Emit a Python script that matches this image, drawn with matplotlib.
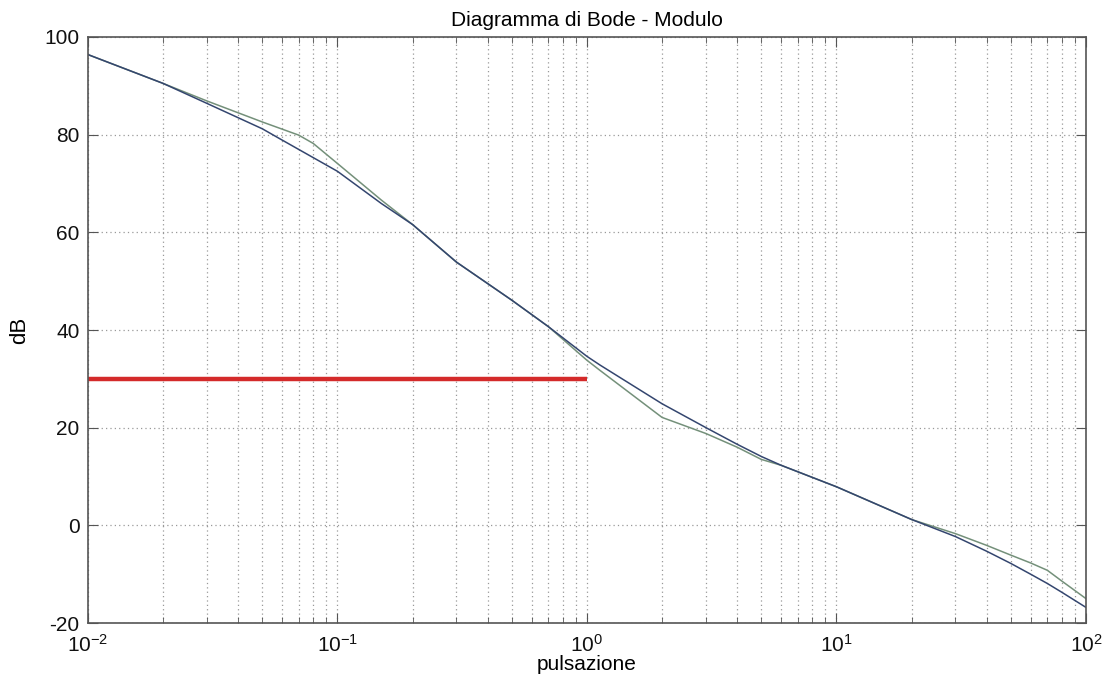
import matplotlib
matplotlib.use("Agg")
import matplotlib.pyplot as plt
from matplotlib.ticker import LogLocator, FixedLocator

plt.rcParams['font.family'] = ['Liberation Sans', 'DejaVu Sans']
plt.rcParams['axes.unicode_minus'] = False
plt.rcParams['mathtext.fontset'] = 'custom'
plt.rcParams['mathtext.rm'] = 'Liberation Sans'
plt.rcParams['mathtext.default'] = 'regular'

# Blue (real) magnitude
blue_w = [0.01, 0.02, 0.03, 0.05, 0.06, 0.1, 0.15, 0.2, 0.3, 0.5, 0.7, 1.0, 1.13,
          2, 3, 4, 5, 6, 10, 20, 30, 40, 50, 60, 70, 80, 100]
blue_db = [96.4, 90.5, 86.4, 81.2, 78.9, 72.5, 65.9, 61.6, 53.9, 46.1, 40.7, 34.6, 32.8,
           24.9, 20.0, 16.6, 14.1, 12.3, 7.9, 1.2, -2.3, -5.3, -7.8, -10.0, -11.9, -13.7, -16.8]

# Green (asymptotic) magnitude
green_w = [0.01, 0.02, 0.03, 0.05, 0.07, 0.08, 0.1, 0.15, 0.2, 0.3, 0.5, 0.7, 1.0, 1.13,
           2, 3, 4, 5, 6, 10, 20, 30, 40, 50, 60, 70, 80, 100]
green_db = [96.4, 90.5, 86.9, 82.6, 79.9, 78.2, 74.1, 66.6, 61.6, 53.9, 46.1, 40.7, 33.8, 31.7,
            22.1, 18.8, 16.0, 13.5, 12.3, 7.9, 1.2, -1.7, -4.1, -6.1, -7.7, -9.2, -11.4, -15.0]

red_w = [0.01, 1.0]
red_db = [30, 30]

y_ticks = [-20, 0, 20, 40, 60, 80, 100]

fig = plt.figure(figsize=(11.13, 6.8), dpi=100)
ax = fig.add_axes([0.079, 0.0838, 0.8967, 0.8618])

ax.plot(green_w, green_db, color='#74907a', lw=1.1)
ax.plot(blue_w, blue_db, color='#34466f', lw=1.1)
ax.plot(red_w, red_db, color='#d42a2a', lw=3.2, solid_capstyle='butt')

ax.set_xscale('log')
ax.set_xlim(0.01, 100)
ax.set_ylim(-20, 100)
ax.yaxis.set_major_locator(FixedLocator(y_ticks))
ax.xaxis.set_major_locator(LogLocator(base=10, numticks=10))
ax.xaxis.set_minor_locator(LogLocator(base=10, subs=range(2, 10), numticks=100))

ax.grid(True, which='major', axis='both', linestyle=(0, (1, 2.5)), color='#999999', lw=0.9)
ax.grid(True, which='minor', axis='x', linestyle=(0, (1, 2.5)), color='#999999', lw=0.9)

for s in ax.spines.values():
    s.set_color('#555555')
    s.set_linewidth(1.2)

ax.tick_params(which='both', direction='in', top=True, right=True, colors='#555555',
               labelcolor='#111111', labelsize=15)
ax.tick_params(which='major', length=7)
ax.tick_params(which='minor', length=4)
ax.tick_params(axis='x', pad=8)
ax.tick_params(axis='y', pad=6)

ax.set_title('Diagramma di Bode - Modulo', fontsize=15, pad=8)
ax.set_xlabel('pulsazione', fontsize=15, labelpad=-1)
ax.set_ylabel('dB', fontsize=16, labelpad=10)

fig.savefig('out.png', dpi=100)
